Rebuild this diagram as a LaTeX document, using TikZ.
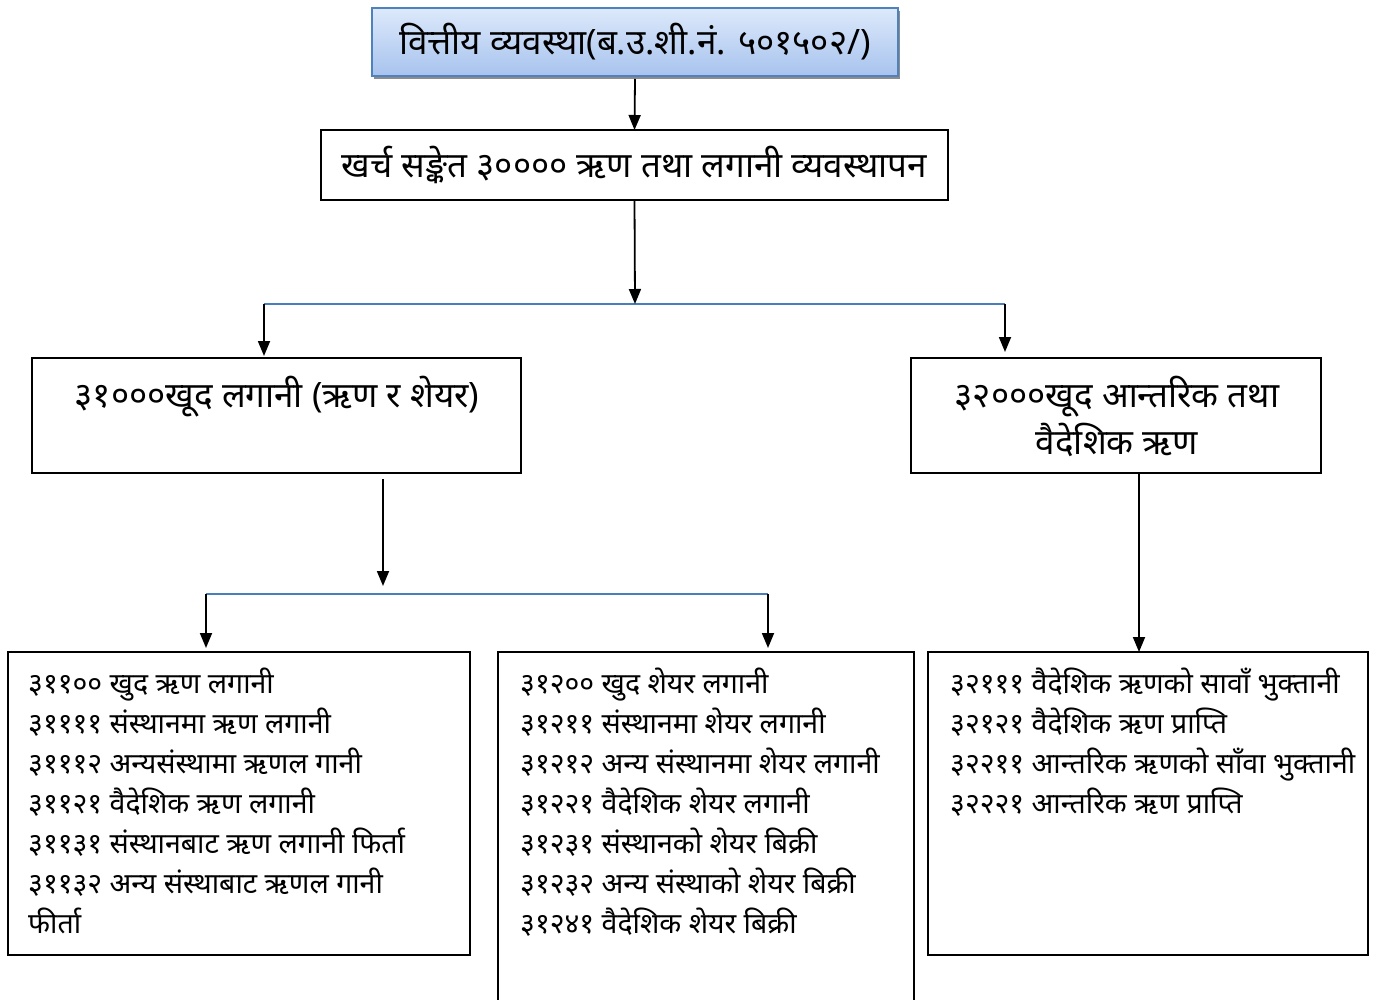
\documentclass[tikz,border=0pt]{standalone}
\usepackage{fontspec}
\newfontfamily\dev[Script=Devanagari]{Noto Sans}
\usetikzlibrary{arrows.meta,shadows}
\definecolor{bordblue}{HTML}{4F81BD}
\definecolor{topc}{HTML}{DDE9FB}
\definecolor{botc}{HTML}{A7C3EE}
\definecolor{linkblue}{HTML}{4A7EBB}
\tikzset{
  box/.style={draw=black, line width=1.5pt, inner sep=0pt, outer sep=0pt, fill=white},
  titlebox/.style={draw=bordblue, line width=2pt, inner sep=0pt, outer sep=0pt,
     top color=topc, bottom color=botc,
     drop shadow={shadow xshift=2pt, shadow yshift=-3pt, fill=black!45, opacity=1}},
  arr/.style={draw=black, line width=1.8pt, -{Triangle[length=15pt,width=12pt]}},
  bar/.style={draw=linkblue, line width=1.8pt},
  big/.style={font=\dev\fontsize{35}{47}\selectfont},
  list/.style={font=\dev\fontsize{28.5}{40}\selectfont, align=left, anchor=north west, inner sep=0pt}
}
\begin{document}
\begin{tikzpicture}[x=1pt,y=-1pt]
\useasboundingbox (0,0) rectangle (1373,1000);
% boxes
\node[titlebox, minimum width=526pt, minimum height=68pt, big] (top) at (635,42) {वित्तीय व्यवस्था(ब.उ.शी.नं. ५०१५०२/)};
\node[box, minimum width=627pt, minimum height=70pt, big] (b2) at (634.5,165) {खर्च सङ्केत ३०००० ऋण तथा लगानी व्यवस्थापन};
\node[box, minimum width=489pt, minimum height=115pt] (b3) at (276.5,415.5) {};
\node[big, anchor=center] (t3) at (277,397) {३१०००खूद लगानी (ऋण र शेयर)};
\node[box, minimum width=410pt, minimum height=115pt] (b4) at (1116,415.5) {};
\node[big, align=center, anchor=center] (t4) at (1117,416) {३२०००खूद आन्तरिक तथा\\वैदेशिक ऋण};
\node[box, minimum width=462pt, minimum height=303pt] (b5) at (239,803.5) {};
\node[box, minimum width=416pt, minimum height=360pt] (b6) at (706,832) {};
\node[box, minimum width=440pt, minimum height=303pt] (b7) at (1148,803.5) {};
% list texts
\node[list] (t5) at (28,668) {३११०० खुद ऋण लगानी\\
३११११ संस्थानमा ऋण लगानी\\
३१११२ अन्यसंस्थामा ऋणल गानी\\
३११२१ वैदेशिक ऋण लगानी\\
३११३१ संस्थानबाट ऋण लगानी फिर्ता\\
३११३२ अन्य संस्थाबाट ऋणल गानी\\
फीर्ता};
\node[list] (t6) at (520,668) {३१२०० खुद शेयर लगानी\\
३१२११ संस्थानमा शेयर लगानी\\
३१२१२ अन्य संस्थानमा शेयर लगानी\\
३१२२१ वैदेशिक शेयर लगानी\\
३१२३१ संस्थानको शेयर बिक्री\\
३१२३२ अन्य संस्थाको शेयर बिक्री\\
३१२४१ वैदेशिक शेयर बिक्री};
\node[list] (t7) at (950,668) {३२१११ वैदेशिक ऋणको सावाँ भुक्तानी\\
३२१२१ वैदेशिक ऋण प्राप्ति\\
३२२११ आन्तरिक ऋणको साँवा भुक्तानी\\
३२२२१ आन्तरिक ऋण प्राप्ति};
% junction coordinates
\coordinate (j1) at (635,304);
\coordinate (j1l) at (264,304);
\coordinate (j1r) at (1005,304);
\coordinate (e3) at (264,356);
\coordinate (e4) at (1005,352);
\coordinate (s3) at (383,479);
\coordinate (j2) at (383,586);
\coordinate (j2l) at (206,594);
\coordinate (j2r) at (768,594);
\coordinate (e5) at (206,648);
\coordinate (e6) at (768,648);
% connectors
\draw[arr] (top.south) ++(0,3) -- (b2.north);
\draw[bar] (j1l) -- (j1r);
\draw[arr] (b2.south) -- (j1);
\draw[arr] (j1l) -- (e3);
\draw[arr] (j1r) -- (e4);
\draw[bar] (j2l) -- (j2r);
\draw[arr] (s3) -- (j2);
\draw[arr] (j2l) -- (e5);
\draw[arr] (j2r) -- (e6);
\draw[arr] (b4.south -| 1139,0) -- (b7.north -| 1139,0);
\end{tikzpicture}
\end{document}
